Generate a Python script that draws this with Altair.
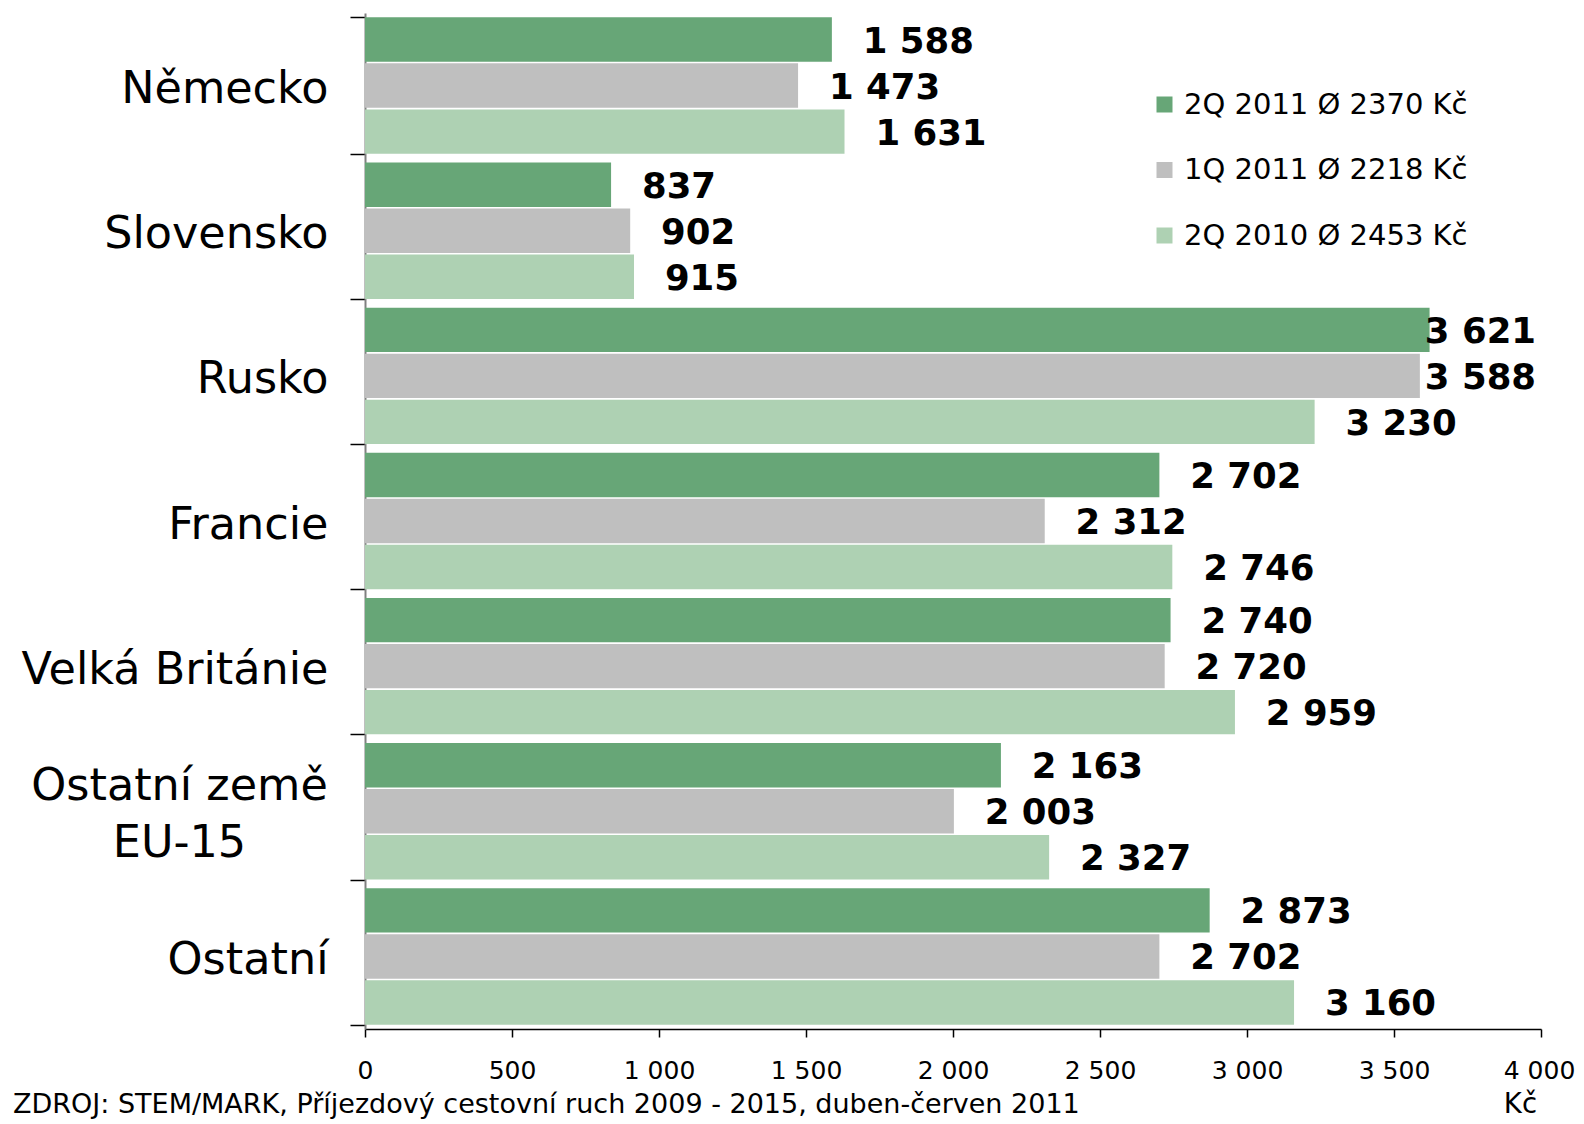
import altair as alt
import pandas as pd

countries = ["Německo", "Slovensko", "Rusko", "Francie", "Velká Británie", "Ostatní země EU-15", "Ostatní"]
series = ["2Q 2011 Ø 2370 Kč", "1Q 2011 Ø 2218 Kč", "2Q 2010 Ø 2453 Kč"]
q2_2011 = [1588, 837, 3621, 2702, 2740, 2163, 2873]
q1_2011 = [1473, 902, 3588, 2312, 2720, 2003, 2702]
q2_2010 = [1631, 915, 3230, 2746, 2959, 2327, 3160]
colors = ["#67a677", "#bfbfbf", "#aed1b3"]
x_ticks = [0, 500, 1000, 1500, 2000, 2500, 3000, 3500, 4000]
footer = "ZDROJ: STEM/MARK, Příjezdový cestovní ruch 2009 - 2015, duben-červen 2011"
unit = "Kč"

rows = []
for s, vals in zip(series, [q2_2011, q1_2011, q2_2010]):
    for c, v in zip(countries, vals):
        rows.append({"country": c, "series": s, "value": v})
df = pd.DataFrame(rows)

FONT = "DejaVu Sans"
W, H = 1176, 1016
MULTI = "datum.value == 'Ostatní země EU-15'"

y_enc = alt.Y(
    "country:N",
    sort=countries,
    scale=alt.Scale(paddingInner=0.06, paddingOuter=0.03),
    axis=alt.Axis(
        title=None,
        domainColor="#808080",
        domainWidth=2,
        tickColor="#000000",
        tickSize=15,
        tickWidth=1.5,
        tickBand="extent",
        labelFont=FONT,
        labelFontSize=44.5,
        labelColor="#000000",
        labelLimit=500,
        labelLineHeight=57,
        labelExpr="datum.value == 'Ostatní země EU-15' ? ['Ostatní země', 'EU-15'] : datum.value",
        labelAlign={"condition": {"test": MULTI, "value": "center"}, "value": "right"},
        labelPadding={"condition": {"test": MULTI, "value": 171}, "value": 22},
        labelOffset={"condition": {"test": MULTI, "value": -25}, "value": 4},
    ),
)
yoff = alt.YOffset("series:N", sort=series, scale=alt.Scale(paddingInner=0.035, paddingOuter=0))

x_enc = alt.X(
    "value:Q",
    scale=alt.Scale(domain=[0, 4000], nice=False),
    axis=alt.Axis(
        title=None,
        values=x_ticks,
        grid=False,
        domainColor="#000000",
        domainWidth=1.5,
        tickColor="#000000",
        tickSize=8,
        tickWidth=1.5,
        labelFont=FONT,
        labelFontSize=25,
        labelColor="#000000",
        labelPadding=21,
        labelFlush=False,
        labelOffset={"condition": {"test": "datum.value == 4000", "value": -2}, "value": 0},
        labelExpr="replace(datum.label, ',', ' ')",
    ),
)

base = alt.Chart(df)

bars = base.mark_bar().encode(
    x=x_enc,
    y=y_enc,
    yOffset=yoff,
    color=alt.Color(
        "series:N",
        sort=series,
        scale=alt.Scale(domain=series, range=colors),
        legend=alt.Legend(
            title=None,
            orient="none",
            legendX=785,
            legendY=77,
            symbolType="square",
            symbolSize=256,
            symbolStrokeWidth=0,
            labelFont=FONT,
            labelFontSize=29,
            labelColor="#000000",
            labelOffset=5,
            rowPadding=35.5,
            labelLimit=500,
        ),
    ),
)

labels = base.transform_calculate(
    lx="min(datum.value + 105, 3605)",
    txt="replace(format(datum.value, ','), ',', ' ')",
).mark_text(
    align="left", baseline="middle", dy=2, font=FONT, fontSize=35.5, fontWeight="bold", color="#000000"
).encode(
    x=alt.X("lx:Q"),
    y=alt.Y("country:N", sort=countries),
    yOffset=yoff,
    text="txt:N",
)

foot = alt.Chart(alt.Data(values=[{"t": footer}])).mark_text(
    align="left", baseline="alphabetic", font=FONT, fontSize=27, color="#000000"
).encode(x=alt.value(-352), y=alt.value(1100), text="t:N")

kc = alt.Chart(alt.Data(values=[{"t": unit}])).mark_text(
    align="right", baseline="alphabetic", font=FONT, fontSize=27.5, color="#000000"
).encode(x=alt.value(1172), y=alt.value(1100), text="t:N")

chart = alt.layer(bars, labels, foot, kc).properties(
    width=W,
    height=H,
    autosize=alt.AutoSizeParams(type="none"),
    padding={"left": 357, "top": 5, "right": 35, "bottom": 95},
).configure_view(stroke=None).configure_axis(labelOverlap=False)

chart.save("out.html", embed_options={"renderer": "svg", "actions": False})
